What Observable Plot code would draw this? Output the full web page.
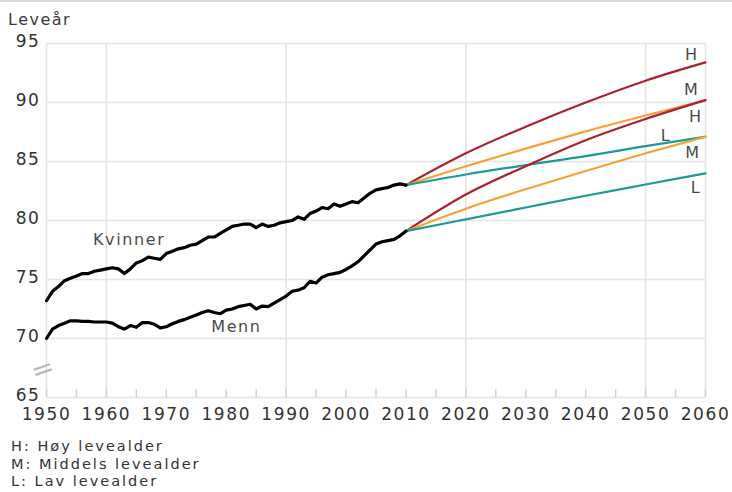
<!DOCTYPE html>
<html>
<head>
<meta charset="utf-8">
<script src="https://cdn.jsdelivr.net/npm/d3@7"></script>
<script src="https://cdn.jsdelivr.net/npm/@observablehq/plot@0.6"></script>
<style>
  html, body { margin: 0; padding: 0; background: #fff; }
  #wrap { position: relative; width: 732px; height: 492px; overflow: hidden; font-family: "DejaVu Sans", sans-serif; }
  #toprule { position: absolute; left: 0; top: 0; width: 732px; height: 2px; background: #dadada; }
  #ylab { position: absolute; left: 8px; top: 10px; font-size: 16px; letter-spacing: 1.5px; color: #3a3a3a; line-height: normal; }
  #chart { position: absolute; left: 0; top: 0; }
  #note { position: absolute; left: 11px; top: 438px; font-size: 14.5px; line-height: 17.5px; letter-spacing: 2px; color: #333; }
</style>
</head>
<body>
<div id="wrap">
  <div id="chart"></div>
  <div id="toprule"></div>
  <div id="ylab">Leveår</div>
  <div id="note"><div>H: Høy levealder</div><div>M: Middels levealder</div><div>L: Lav levealder</div></div>
</div>
<script>
// ---- data ----
const histYears = d3.range(1950, 2011);
const kvinner = [
  73.2, 74.0, 74.4, 74.9, 75.1, 75.3, 75.5, 75.5, 75.7, 75.8,
  75.9, 76.0, 75.9, 75.5, 75.9, 76.4, 76.6, 76.9, 76.8, 76.7,
  77.2, 77.4, 77.6, 77.7, 77.9, 78.0, 78.3, 78.6, 78.6, 78.9,
  79.2, 79.5, 79.6, 79.7, 79.7, 79.4, 79.7, 79.5, 79.6, 79.8,
  79.9, 80.0, 80.3, 80.1, 80.6, 80.8, 81.1, 81.0, 81.4, 81.2,
  81.4, 81.6, 81.5, 81.9, 82.3, 82.6, 82.7, 82.8, 83.0, 83.1,
  83.0
];
const menn = [
  70.0, 70.8, 71.1, 71.3, 71.5, 71.5, 71.45, 71.45, 71.4, 71.4,
  71.4, 71.3, 71.0, 70.8, 71.1, 70.95, 71.35, 71.35, 71.2, 70.9,
  71.0, 71.25, 71.45, 71.6, 71.8, 72.0, 72.2, 72.35, 72.2, 72.1,
  72.4, 72.5, 72.7, 72.8, 72.9, 72.5, 72.75, 72.7, 73.0, 73.3,
  73.6, 74.0, 74.1, 74.3, 74.85, 74.7, 75.2, 75.4, 75.5, 75.6,
  75.85, 76.15, 76.5, 77.0, 77.5, 78.0, 78.2, 78.3, 78.4, 78.7,
  79.1
];
const projYears = [2010, 2020, 2030, 2040, 2050, 2060];
const kvinnerH = [83.0, 85.7, 87.95, 90.0, 91.85, 93.4];
const kvinnerM = [83.0, 84.6, 86.1, 87.55, 88.9, 90.2];
const kvinnerL = [83.0, 83.9, 84.7, 85.45, 86.3, 87.1];
const mennH = [79.1, 82.2, 84.6, 86.8, 88.6, 90.2];
const mennM = [79.1, 81.0, 82.65, 84.2, 85.7, 87.1];
const mennL = [79.1, 80.1, 81.1, 82.1, 83.05, 84.0];

const scenarios = ["H", "M", "L"];
const scenarioColors = ["#a8232f", "#f5a234", "#1e9a96"];

const yTicks = [65, 70, 75, 80, 85, 90, 95];
const xLabelYears = [1950, 1960, 1970, 1980, 1990, 2000, 2010, 2020, 2030, 2040, 2050, 2060];
const xTickYears = [1950, 1955, 1960, 1965, 1970, 1975, 1980, 1985, 1990, 1995, 2000, 2005, 2010, 2015, 2020, 2025, 2030, 2035, 2040, 2045, 2050, 2055, 2060];
const xGridYears = [1960, 1990, 2020, 2050];

const seriesLabels = [
  {text: "Kvinner", year: 1963.8, value: 78.4},
  {text: "Menn", year: 1981.7, value: 71.0}
];
const scenarioLabels = [
  {text: "H", year: 2057.7, value: 94.0},
  {text: "M", year: 2057.7, value: 91.1},
  {text: "H", year: 2058.4, value: 88.8},
  {text: "L", year: 2053.4, value: 87.2},
  {text: "M", year: 2057.9, value: 85.7},
  {text: "L", year: 2058.4, value: 82.8}
];
const axisBreak = [{year: 1950, value: 67.4}];

// ---- tables ----
const hist = [
  ...histYears.map((y, i) => ({sex: "Kvinner", year: y, value: kvinner[i]})),
  ...histYears.map((y, i) => ({sex: "Menn", year: y, value: menn[i]}))
];
const projSets = [
  ["Kvinner", "H", kvinnerH], ["Kvinner", "M", kvinnerM], ["Kvinner", "L", kvinnerL],
  ["Menn", "H", mennH], ["Menn", "M", mennM], ["Menn", "L", mennL]
];
const proj = projSets.flatMap(([sex, sc, vals]) =>
  projYears.map((y, i) => ({key: sex + sc, scenario: sc, year: y, value: vals[i]})));

const gridColor = "#e4e4e4";

const chart = Plot.plot({
  width: 732,
  height: 430,
  marginLeft: 46,
  marginRight: 27,
  marginTop: 43,
  marginBottom: 33,
  style: {fontFamily: "DejaVu Sans", fontSize: "17px", color: "#333", background: "transparent", letterSpacing: "1.6px", overflow: "visible"},
  x: {domain: [1950, 2060], label: null},
  y: {domain: [65, 95], label: null},
  color: {domain: scenarios, range: scenarioColors},
  marks: [
    Plot.gridY(yTicks, {stroke: gridColor, strokeOpacity: 1, strokeWidth: 1.6}),
    Plot.gridX(xGridYears, {stroke: gridColor, strokeOpacity: 1, strokeWidth: 1.6}),
    Plot.ruleX([1950, 2060], {stroke: gridColor, strokeWidth: 1.6}),
    Plot.axisX(xTickYears, {tickSize: 8, dy: -8, tickFormat: () => "", stroke: "#d0d0d0", strokeWidth: 1.4, label: null}),
    Plot.axisX(xLabelYears, {tickSize: 0, tickPadding: 10, tickFormat: d => String(d), fill: "#333", label: null}),
    Plot.axisY(yTicks, {tickSize: 0, tickPadding: 6, dy: -1.5, fill: "#333", label: null}),
    Plot.text(axisBreak, {x: "year", y: "value", text: () => "=", dx: -3, rotate: -19, fontSize: 27, fill: "#b8b8b8", letterSpacing: 0}),
    Plot.line(proj, {x: "year", y: "value", z: "key", stroke: "scenario", strokeWidth: 2.2, curve: "monotone-x"}),
    Plot.line(hist, {x: "year", y: "value", z: "sex", stroke: "#000", strokeWidth: 3.2, strokeLinejoin: "round"}),
    Plot.text(seriesLabels, {x: "year", y: "value", text: "text", fontSize: 16, fill: "#4a4a4a", letterSpacing: "2px"}),
    Plot.text(scenarioLabels, {x: "year", y: "value", text: "text", fontSize: 16, fill: "#4a4a4a"})
  ]
});
document.getElementById("chart").appendChild(chart);
</script>
</body>
</html>
